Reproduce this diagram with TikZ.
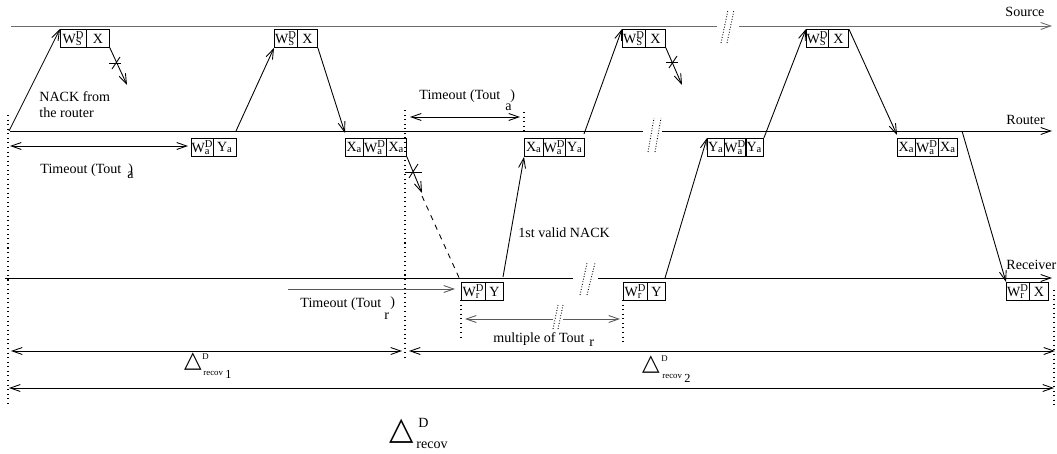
\documentclass[tikz,border=0pt]{standalone}
\usepackage{fontspec}
\setmainfont{Liberation Serif}
\newfontfamily\dejavu{DejaVu Sans}
\usetikzlibrary{arrows.meta}
\newcommand\wsub[3]{#1\rlap{\textsubscript{#2}}\textsuperscript{#3}}
\newcommand\lsub[2]{#1\textsubscript{#2}}
\tikzset{
  lbl/.style={font=\fontsize{8pt}{9.6pt}\selectfont, inner sep=0pt, anchor=west},
  cell/.style={draw, font=\fontsize{8pt}{9.6pt}\selectfont, inner sep=0pt, minimum height=0.36cm, anchor=north west},
  tip/.style={-{Straight Barb[length=0.2cm,width=0.14cm]}},
  dtip/.style={{Straight Barb[length=0.2cm,width=0.14cm]}-{Straight Barb[length=0.2cm,width=0.14cm]}},
  btip/.style={{Straight Barb[length=0.2cm,width=0.14cm]}-},
  vdot/.style={dotted, line width=0.6pt},
  brk/.style={densely dotted, line width=0.5pt},
  xmark/.style={line width=0.5pt},
  tri/.style={font=\dejavu, inner sep=0pt},
}
\begin{document}
\begin{tikzpicture}[x=0.02cm, y=-0.02cm, line width=0.5pt]
\useasboundingbox (0,0) rectangle (1057,453);

% ---------- time lines ----------
\coordinate (sL) at (11,26);  \coordinate (sB1) at (717,26); \coordinate (sB2) at (739,26); \coordinate (sR) at (1052,26);
\coordinate (rL) at (10,131); \coordinate (rB1) at (643,131); \coordinate (rB2) at (662,131); \coordinate (rR) at (1052,131);
\coordinate (vL) at (5,278);  \coordinate (vB1) at (573,278); \coordinate (vB2) at (598,278); \coordinate (vR) at (1052,278);
\draw[gray!85!black] (sL) -- (sB1);
\draw[gray!85!black, tip] (sB2) -- (sR);
\draw (rL) -- (rB1);
\draw[tip] (rB2) -- (rR);
\draw (vL) -- (vB1);
\draw[tip] (vB2) -- (vR);

\node[lbl] (lsrc) at (1005,12) {Source};
\node[lbl] (lrtr) at (1006,120) {Router};
\node[lbl] (lrcv) at (1006,265) {Receiver};

% break marks
\coordinate (bs1a) at (721,43); \coordinate (bs1b) at (728,10);
\coordinate (bs2a) at (727,43); \coordinate (bs2b) at (734,10);
\coordinate (br1a) at (648,152); \coordinate (br1b) at (654,118);
\coordinate (br2a) at (655,152); \coordinate (br2b) at (661,118);
\coordinate (bv1a) at (580,295); \coordinate (bv1b) at (587,263);
\coordinate (bv2a) at (587,295); \coordinate (bv2b) at (595,263);
\coordinate (bm1a) at (553,329); \coordinate (bm1b) at (558,305);
\coordinate (bm2a) at (558,329); \coordinate (bm2b) at (563,305);
\draw[brk] (bs1a) -- (bs1b); \draw[brk] (bs2a) -- (bs2b);
\draw[brk] (br1a) -- (br1b); \draw[brk] (br2a) -- (br2b);
\draw[brk] (bv1a) -- (bv1b); \draw[brk] (bv2a) -- (bv2b);
\draw[brk] (bm1a) -- (bm1b); \draw[brk] (bm2a) -- (bm2b);

% ---------- source boxes ----------
\node[cell, minimum width=0.52cm] (s1a) at (60,29) {\wsub{W}{S}{D}};
\node[cell, minimum width=0.46cm] (s1b) at (86,29) {X};
\node[cell, minimum width=0.46cm] (s2a) at (274,29) {\wsub{W}{S}{D}};
\node[cell, minimum width=0.40cm] (s2b) at (297,29) {X};
\node[cell, minimum width=0.46cm] (s3a) at (622,29) {\wsub{W}{S}{D}};
\node[cell, minimum width=0.40cm] (s3b) at (645,29) {X};
\node[cell, minimum width=0.44cm] (s4a) at (806,29) {\wsub{W}{S}{D}};
\node[cell, minimum width=0.40cm] (s4b) at (828,29) {X};

% ---------- router boxes ----------
\node[cell, minimum width=0.44cm] (r1a) at (191,138) {\wsub{W}{a}{D}};
\node[cell, minimum width=0.46cm] (r1b) at (213,138) {\lsub{Y}{a}};
\node[cell, minimum width=0.36cm] (r2a) at (345,138) {\lsub{X}{a}};
\node[cell, minimum width=0.46cm] (r2b) at (363,138) {\wsub{W}{a}{D}};
\node[cell, minimum width=0.40cm] (r2c) at (386,138) {\lsub{X}{a}};
\node[cell, minimum width=0.38cm] (r3a) at (524,138) {\lsub{X}{a}};
\node[cell, minimum width=0.44cm] (r3b) at (543,138) {\wsub{W}{a}{D}};
\node[cell, minimum width=0.38cm] (r3c) at (565,138) {\lsub{Y}{a}};
\node[cell, minimum width=0.34cm] (r4a) at (707,138) {\lsub{Y}{a}};
\node[cell, minimum width=0.42cm] (r4b) at (724,138) {\wsub{W}{a}{D}};
\node[cell, minimum width=0.36cm] (r4c) at (745,138) {\lsub{Y}{a}};
\node[cell, minimum width=0.36cm] (r5a) at (897,138) {\lsub{X}{a}};
\node[cell, minimum width=0.46cm] (r5b) at (915,138) {\wsub{W}{a}{D}};
\node[cell, minimum width=0.38cm] (r5c) at (938,138) {\lsub{X}{a}};

% ---------- receiver boxes ----------
\node[cell, minimum width=0.48cm] (v1a) at (461,282) {\wsub{W}{r}{D}};
\node[cell, minimum width=0.36cm] (v1b) at (485,282) {Y};
\node[cell, minimum width=0.48cm] (v2a) at (623,282) {\wsub{W}{r}{D}};
\node[cell, minimum width=0.36cm] (v2b) at (647,282) {Y};
\node[cell, minimum width=0.46cm] (v3a) at (1006,282) {\wsub{W}{r}{D}};
\node[cell, minimum width=0.38cm] (v3b) at (1029,282) {X};

% ---------- message arrows ----------
\coordinate (a1s) at (9,131);
\draw[tip] (a1s) -- (s1a.north west);
\coordinate (a2e) at (127,85);
\draw[tip] (s1b.south east) -- (a2e);
\coordinate (a3s) at (236,131);
\draw[tip] (a3s) -- (s2a.south west);
\coordinate (a4e) at (345,133);
\draw[tip] (s2b.south east) -- (a4e);
\coordinate (a5e) at (422,193); \coordinate (a5d) at (422,196);
\draw[tip] (r2c.south east) -- (a5e);
\draw[dashed] (a5d) -- (v1a.north west);
\coordinate (a6s) at (503,277);
\draw[tip] (a6s) -- (r3a.south west);
\coordinate (a7s) at (584,134);
\draw[tip] (a7s) -- (s3a.north west);
\coordinate (a8e) at (682,85);
\draw[tip] (s3b.south east) -- (a8e);
\coordinate (a9s) at (665,278);
\draw[tip] (a9s) -- (r4a.north west);
\draw[tip] (r4c.north east) -- (s4a.north west);
\coordinate (a11e) at (897,135);
\draw[tip] (s4b.north east) -- (a11e);
\coordinate (a12s) at (962,131);
\draw[tip] (a12s) -- (v3a.north west);

% cross marks
\coordinate (x1a) at (109,63); \coordinate (x1b) at (121,63); \coordinate (x1c) at (112,69); \coordinate (x1d) at (120,57);
\coordinate (x3a) at (405,172); \coordinate (x3b) at (422,172); \coordinate (x3c) at (409,178); \coordinate (x3d) at (418,164);
\coordinate (x4a) at (666,62); \coordinate (x4b) at (678,62); \coordinate (x4c) at (669,68); \coordinate (x4d) at (677,56);
\draw[xmark] (x1a) -- (x1b); \draw[xmark] (x1c) -- (x1d);
\draw[xmark] (x3a) -- (x3b); \draw[xmark] (x3c) -- (x3d);
\draw[xmark] (x4a) -- (x4b); \draw[xmark] (x4c) -- (x4d);

\node[lbl] (nack1) at (39,97) {NACK from};
\node[lbl] (nack2) at (39,113) {the router};
\node[lbl] (valid) at (518,233) {1st valid NACK};

% ---------- dotted verticals ----------
\coordinate (d1t) at (8,115);   \coordinate (d1b) at (8,405);
\coordinate (d2t) at (405,110); \coordinate (d2b) at (405,360);
\coordinate (d3t) at (524,112); \coordinate (d3b) at (524,131);
\coordinate (d4t) at (461,300); \coordinate (d4b) at (461,340);
\coordinate (d5t) at (623,300); \coordinate (d5b) at (623,345);
\coordinate (d6t) at (1054,290); \coordinate (d6b) at (1054,407);
\draw[vdot] (d1t) -- (d1b);
\draw[vdot] (d2t) -- (d2b);
\draw[vdot] (d3t) -- (d3b);
\draw[vdot] (d4t) -- (d4b);
\draw[vdot] (d5t) -- (d5b);
\draw[vdot] (d6t) -- (d6b);

% ---------- timeouts ----------
\coordinate (ta1) at (10,146); \coordinate (ta2) at (188,146);
\draw[dtip] (ta1) -- (ta2);
\node[lbl] (tal) at (40,170) {Timeout (Tout};
\node[lbl] (tap) at (128,170) {)};
\node[lbl] (tas) at (127,175) {a};

\coordinate (tb1) at (410,117); \coordinate (tb2) at (520,117);
\draw[dtip] (tb1) -- (tb2);
\node[lbl] (tbl) at (419,96) {Timeout (Tout};
\node[lbl] (tbp) at (510,96) {)};
\node[lbl] (tbs) at (505,107) {a};

\coordinate (tr1) at (288,289); \coordinate (tr2) at (455,289);
\draw[gray!70!black, tip] (tr1) -- (tr2);
\node[lbl] (trl) at (300,304) {Timeout (Tout};
\node[lbl] (trp) at (390,303) {)};
\node[lbl] (trs) at (384,316) {r};

\coordinate (tm1) at (465,319); \coordinate (tm2) at (553,319);
\coordinate (tm3) at (563,319); \coordinate (tm4) at (620,319);
\draw[gray!70!black, btip] (tm1) -- (tm2);
\draw[gray!70!black, tip] (tm3) -- (tm4);
\node[lbl] (tml) at (493,339) {multiple of Tout};
\node[lbl] (tms) at (589,343) {r};

% ---------- recovery delays ----------
\coordinate (e1a) at (11,351); \coordinate (e1b) at (402,351);
\coordinate (e2a) at (409,351); \coordinate (e2b) at (1055,351);
\coordinate (e3a) at (9,388); \coordinate (e3b) at (1054,388);
\draw[dtip] (e1a) -- (e1b);
\draw[dtip] (e2a) -- (e2b);
\draw[dtip] (e3a) -- (e3b);

\node[tri, font=\dejavu\fontsize{13pt}{13pt}\selectfont] (t1) at (193,362) {△};
\node[lbl, font=\fontsize{5pt}{6pt}\selectfont] (t1d) at (202,357) {D};
\node[lbl, font=\fontsize{5pt}{6pt}\selectfont] (t1r) at (203,373) {recov};
\node[lbl, font=\fontsize{7pt}{8pt}\selectfont] (t1n) at (225,374) {1};

\node[tri, font=\dejavu\fontsize{13pt}{13pt}\selectfont] (t2) at (651,365) {△};
\node[lbl, font=\fontsize{5pt}{6pt}\selectfont] (t2d) at (661,359) {D};
\node[lbl, font=\fontsize{5pt}{6pt}\selectfont] (t2r) at (662,376) {recov};
\node[lbl, font=\fontsize{7pt}{8pt}\selectfont] (t2n) at (684,378) {2};

\node[tri, font=\dejavu\fontsize{18pt}{18pt}\selectfont] (t3) at (402,431) {△};
\node[lbl] (t3d) at (418,423) {D};
\node[lbl] (t3r) at (416,445) {recov};
\end{tikzpicture}
\end{document}
